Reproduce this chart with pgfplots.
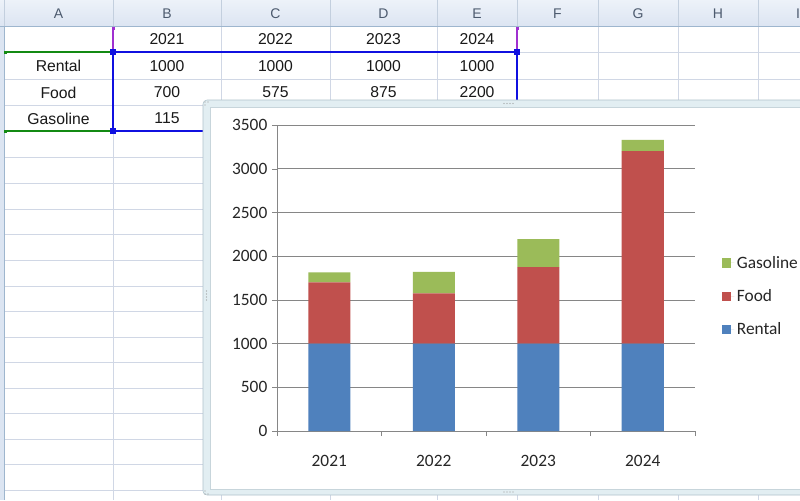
\documentclass[border=0pt]{standalone}
\usepackage{fontspec}
\setmainfont{Carlito}
\newfontfamily\arial{Liberation Sans}
\usepackage{pgfplots}
\pgfplotsset{compat=1.18}

\definecolor{xlblue}{HTML}{4F81BD}
\definecolor{xlred}{HTML}{C0504D}
\definecolor{xlgreen}{HTML}{9BBB59}
\definecolor{gridc}{HTML}{D0D7E5}
\definecolor{headtop}{HTML}{EDF2F9}
\definecolor{headbot}{HTML}{DCE5F2}
\definecolor{headsep}{HTML}{C3CFDE}
\definecolor{headline}{HTML}{9EB6CE}
\definecolor{headtxt}{HTML}{4C5A6E}
\definecolor{framec}{HTML}{E2EEF2}
\definecolor{framedraw}{HTML}{AFC3CB}
\definecolor{axisgray}{HTML}{868686}
\definecolor{selgreen}{HTML}{138A13}
\definecolor{selpurple}{HTML}{A030D0}
\definecolor{selblue}{HTML}{1010E0}

\pgfplotsset{sqlegend/.style={legend image code/.code={%
  \fill[##1,draw=none] (0pt,-3.4pt) rectangle (6.6pt,3.4pt);
  \path (0pt,0pt) -- (9pt,0pt);}}}

\begin{document}
\begin{tikzpicture}
\useasboundingbox (0,0) rectangle (600pt,-375pt);
\clip (0,0) rectangle (600pt,-375pt);
\begin{scope}[x=0.75pt,y=-0.75pt]
  \fill[white] (0,0) rectangle (800,500);
  % cell grid
  \foreach \y in {52,79,105,131,157,183,209,234,260,286,311,337,362,388,413,439,464,490}
    \draw[gridc] (4,\y) -- (800,\y);
  \foreach \x in {113,221,330,437,517,598,678,758}
    \draw[gridc] (\x,26) -- (\x,500);
  % row header strip
  \fill[headbot] (0,26) rectangle (4,500);
  \draw[headline] (4,26) -- (4,500);
  % column header
  \shade[top color=headtop, bottom color=headbot] (0,0) rectangle (800,26);
  \foreach \x in {4,113,221,330,437,517,598,678,758}
    \draw[headsep] (\x,0) -- (\x,26);
  \draw[headline] (0,26) -- (800,26);
  \begin{scope}[every node/.style={font=\arial\fontsize{10.5}{12}\selectfont, text=headtxt}]
    \node at (58.5,13.5) {A};
    \node at (167,13.5) {B};
    \node at (275.5,13.5) {C};
    \node at (383.5,13.5) {D};
    \node at (477,13.5) {E};
    \node at (557.5,13.5) {F};
    \node at (638,13.5) {G};
    \node at (718,13.5) {H};
    \node at (798,13.5) {I};
  \end{scope}
  % cell contents
  \begin{scope}[every node/.style={font=\arial\fontsize{11.8}{13}\selectfont, text=black!90}]
    \node at (167,39.5) {2021};
    \node at (275.5,39.5) {2022};
    \node at (383.5,39.5) {2023};
    \node at (477,39.5) {2024};
    \node at (58.5,66) {Rental};
    \node at (167,66) {1000};
    \node at (275.5,66) {1000};
    \node at (383.5,66) {1000};
    \node at (477,66) {1000};
    \node at (58.5,92.5) {Food};
    \node at (167,92.5) {700};
    \node at (275.5,92.5) {575};
    \node at (383.5,92.5) {875};
    \node at (477,92.5) {2200};
    \node at (58.5,118.5) {Gasoline};
    \node at (167,118.5) {115};
  \end{scope}
  % source range markers
  \draw[selgreen, line width=1.2] (4,52) -- (113,52);
  \draw[selgreen, line width=1.2] (4,131) -- (113,131);
  \fill[selgreen] (4,50.5) rectangle (7,53.5);
  \fill[selgreen] (4,129.5) rectangle (7,132.5);
  \draw[selpurple, line width=1.2] (113,27) -- (113,52);
  \draw[selpurple, line width=1.2] (517,27) -- (517,52);
  \fill[selpurple] (111.5,26.5) rectangle (114.5,29.5);
  \fill[selpurple] (515.5,26.5) rectangle (518.5,29.5);
  \draw[selblue, line width=1.2] (113,131) -- (113,52) -- (517,52) -- (517,131) -- cycle;
  \fill[selblue] (110,49) rectangle (116,55);
  \fill[selblue] (514,49) rectangle (520,55);
  \fill[selblue] (110,128) rectangle (116,134);
  % chart frame
  \filldraw[fill=framec, draw=framedraw, rounded corners=3] (203,100) rectangle (814,495);
  \filldraw[fill=white, draw=framedraw!70] (210,107) rectangle (807,489);
  \foreach \i in {0,1,2,3} {
    \fill[gray!80] (504+3*\i,103.5) circle (0.7);
    \fill[gray!80] (504+3*\i,492) circle (0.7);
    \fill[gray!80] (206.5,291+3*\i) circle (0.7);
  }
  \foreach \a/\b in {205/102,208/102,205/105,205/491,205/494,208/494}
    \fill[gray!80] (\a,\b) circle (0.7);
\end{scope}

\begin{axis}[
  at={(207.75pt,-323.25pt)}, anchor=south west,
  scale only axis, width=313.5pt, height=229.5pt,
  ybar stacked, bar width=31.5pt,
  xmin=-0.5, xmax=3.5, ymin=0, ymax=3500,
  xtick={-0.5,0.5,1.5,2.5,3.5},
  x tick label as interval,
  xticklabels={2021,2022,2023,2024},
  ytick={0,500,...,3500},
  axis lines=left,
  axis line style={-, axisgray},
  tick style={axisgray},
  major tick length=3.75pt,
  tick align=outside,
  ymajorgrids,
  grid style={axisgray},
  scaled y ticks=false,
  /pgf/number format/1000 sep={},
  /pgf/number format/assume math mode=true,
  tick label style={font=\fontsize{13}{15}\selectfont, text=black!85},
  xticklabel style={yshift=-11pt},
  reverse legend,
  legend cell align=left,
  legend style={at={(1.055,0.44)}, anchor=west, draw=none, fill=none,
    font=\fontsize{13}{15}\selectfont, row sep=10.5pt, text=black!85},
]
\addplot[fill=xlblue, draw=none, sqlegend] coordinates {(0,1000) (1,1000) (2,1000) (3,1000)};
\addplot[fill=xlred, draw=none, sqlegend] coordinates {(0,700) (1,575) (2,875) (3,2200)};
\addplot[fill=xlgreen, draw=none, sqlegend] coordinates {(0,115) (1,245) (2,320) (3,130)};
\legend{Rental,Food,Gasoline}
\end{axis}
\end{tikzpicture}
\end{document}
